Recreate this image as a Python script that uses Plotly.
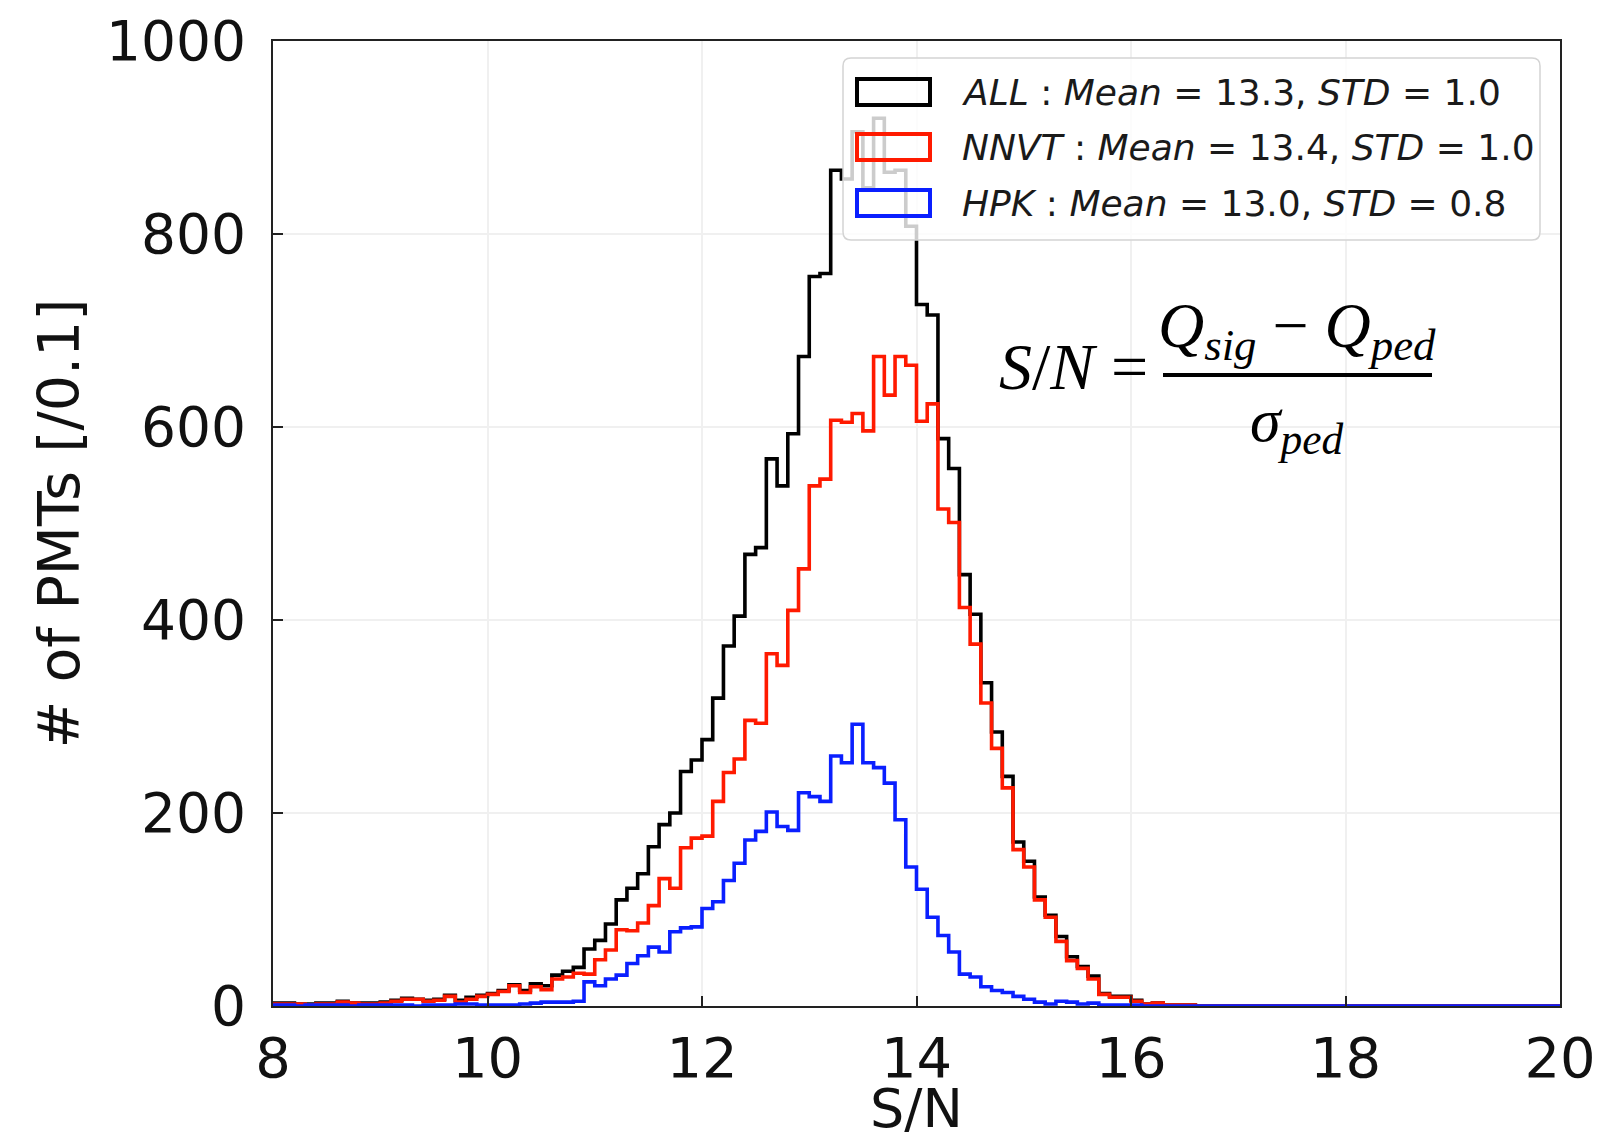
import numpy as np
import plotly.graph_objects as go

# ---------------- data (counts per 0.1 bin, S/N from 8.0 to 20.0) ----------------
bin_start = 8.0
bin_width = 0.1
n_bins = 120

all_counts = [
    3, 3, 2, 2, 3, 3, 5, 3, 3, 3,            # 8.0 - 8.9
    4, 6, 8, 7, 6, 7, 11, 6, 9, 11,          # 9.0 - 9.9
    13, 16, 22, 16, 23, 21, 32, 36, 40, 59,  # 10.0 - 10.9
    68, 85, 110, 122, 137, 165, 188, 200, 243, 255,  # 11.x
    276, 319, 373, 404, 468, 475, 567, 539, 593, 673,  # 12.x
    756, 759, 866, 857, 906, 848, 920, 864, 866, 808,  # 13.x
    727, 716, 588, 557, 447, 406, 335, 284, 238, 170,  # 14.x
    150, 113, 94, 72, 51, 41, 31, 13, 10, 10,          # 15.x
    6, 2, 3, 1, 1, 1, 0, 0, 0, 0,                      # 16.x
    0, 0, 0, 0, 0, 0, 0, 0, 0, 0,                      # 17.x
    0, 0, 0, 0, 0, 0, 0, 0, 0, 0,                      # 18.x
    0, 0, 0, 0, 0, 0, 0, 0, 0, 0,                      # 19.x
]
nnvt_counts = [
    2, 2, 2, 1, 2, 2, 4, 3, 2, 2,
    3, 5, 7, 7, 5, 6, 10, 4, 7, 10,
    12, 15, 21, 14, 20, 17, 28, 30, 34, 33,
    48, 58, 79, 78, 86, 104, 132, 122, 164, 174,
    176, 212, 242, 256, 296, 293, 365, 353, 410, 453,
    539, 546, 607, 605, 614, 596, 673, 633, 673, 664,
    606, 624, 515, 501, 413, 375, 314, 267, 226, 162,
    144, 110, 92, 67, 47, 39, 28, 12, 9, 9,
    5, 2, 3, 1, 1, 1, 0, 0, 0, 0,
    0, 0, 0, 0, 0, 0, 0, 0, 0, 0,
    0, 0, 0, 0, 0, 0, 0, 0, 0, 0,
    0, 0, 0, 0, 0, 0, 0, 0, 0, 0,
]
hpk_counts = [
    1, 1, 0, 1, 1, 1, 1, 0, 1, 1,
    1, 1, 1, 0, 1, 1, 1, 2, 2, 1,
    1, 1, 1, 2, 3, 4, 4, 4, 5, 25,
    21, 28, 32, 44, 52, 61, 56, 77, 81, 82,
    101, 108, 130, 148, 172, 181, 201, 186, 182, 221,
    217, 212, 259, 252, 292, 252, 247, 231, 193, 144,
    121, 92, 73, 56, 33, 30, 20, 16, 14, 10,
    7, 4, 2, 5, 4, 2, 3, 1, 1, 1,
    1, 0, 0, 0, 0, 0, 0, 0, 0, 0,
    0, 0, 0, 0, 0, 0, 0, 0, 0, 0,
    0, 0, 0, 0, 0, 0, 0, 0, 0, 0,
    0, 0, 0, 0, 0, 0, 0, 0, 0, 0,
]

series_names = ["ALL", "NNVT", "HPK"]
series_means = ["13.3", "13.4", "13.0"]
series_stds = ["1.0", "1.0", "0.8"]
series_colors = ["black", "#ff1a00", "#0a1fff"]

x_ticks = [8, 10, 12, 14, 16, 18, 20]
y_ticks = [0, 200, 400, 600, 800, 1000]
x_title = "S/N"
y_title = "# of PMTs [/0.1]"

# ---------------- figure ----------------
W, H = 1599, 1141
ML, MR, MT, MB = 273, 39, 41, 135
PW, PH = W - ML - MR, H - MT - MB

def px(x):
    return (x - ML) / PW

def py(y):
    return (H - MB - y) / PH

edges = np.round(bin_start + bin_width * np.arange(n_bins + 1), 1)

fig = go.Figure()
for name, counts, color in zip(series_names, [all_counts, nnvt_counts, hpk_counts], series_colors):
    yy = list(counts) + [counts[-1]]
    fig.add_trace(go.Scatter(
        x=edges, y=yy, mode="lines", name=name,
        line=dict(color=color, width=3.6, shape="hv"),
        showlegend=False, hoverinfo="x+y",
    ))

shapes = []
annotations = []

# legend box (rounded)
lx0, lx1, ly0, ly1, r = 843, 1540, 58, 240, 8
rx, ry = r / PW, r / PH
X0, X1, Y0, Y1 = px(lx0), px(lx1), py(ly1), py(ly0)
path = (f"M{X0+rx},{Y0} L{X1-rx},{Y0} Q{X1},{Y0} {X1},{Y0+ry} L{X1},{Y1-ry} "
        f"Q{X1},{Y1} {X1-rx},{Y1} L{X0+rx},{Y1} Q{X0},{Y1} {X0},{Y1-ry} "
        f"L{X0},{Y0+ry} Q{X0},{Y0} {X0+rx},{Y0} Z")
shapes.append(dict(type="path", xref="paper", yref="paper", path=path,
                   fillcolor="rgba(255,255,255,0.8)", line=dict(color="#d4d4d4", width=1.5),
                   layer="above"))
row_y = [92, 147, 203]
for i in range(3):
    shapes.append(dict(type="rect", xref="paper", yref="paper",
                       x0=px(857), x1=px(930), y0=py(row_y[i] + 13), y1=py(row_y[i] - 13),
                       line=dict(color=series_colors[i], width=4), fillcolor="rgba(0,0,0,0)",
                       layer="above"))
    txt = (f"<i>{series_names[i]}</i> : <i>Mean</i> = {series_means[i]}, "
           f"<i>STD</i> = {series_stds[i]}")
    annotations.append(dict(xref="paper", yref="paper", x=px(960), y=py(row_y[i]),
                            xanchor="left", yanchor="middle", text=txt, showarrow=False,
                            font=dict(family="DejaVu Sans", size=36, color="#1a1a1a")))

# formula
serif = "Liberation Serif"
annotations.append(dict(xref="paper", yref="paper", x=px(1150), y=py(366),
                        xanchor="right", yanchor="middle", showarrow=False,
                        text="<i>S</i>/<i>N</i> =",
                        font=dict(family=serif, size=66, color="black")))
annotations.append(dict(xref="paper", yref="paper", x=px(1297), y=py(372),
                        xanchor="center", yanchor="bottom", showarrow=False,
                        text="<i>Q</i><sub><i>sig</i></sub> \u2212 <i>Q</i><sub><i>ped</i></sub>",
                        font=dict(family=serif, size=64, color="black")))
annotations.append(dict(xref="paper", yref="paper", x=px(1297), y=py(384),
                        xanchor="center", yanchor="top", showarrow=False,
                        text="<i>\u03c3</i><sub><i>ped</i></sub>",
                        font=dict(family=serif, size=62, color="black")))
shapes.append(dict(type="line", xref="paper", yref="paper",
                   x0=px(1163), x1=px(1432), y0=py(375), y1=py(375),
                   line=dict(color="black", width=4), layer="above"))

# x-axis title (placed explicitly below the tick labels, kept inside the page)
annotations.append(dict(xref="paper", yref="paper", x=0.5, y=py(H),
                        xanchor="center", yanchor="bottom", showarrow=False,
                        text=x_title, borderpad=0,
                        font=dict(family="DejaVu Sans", size=54, color="#111")))

fig.update_layout(
    width=W, height=H,
    margin=dict(l=ML, r=MR, t=MT, b=MB, autoexpand=False),
    paper_bgcolor="white", plot_bgcolor="white",
    shapes=shapes, annotations=annotations,
    showlegend=False,
    font=dict(family="DejaVu Sans", color="#111111"),
)
fig.update_xaxes(
    range=[8, 20], tickvals=x_ticks, ticktext=[str(v) for v in x_ticks],
    ticks="inside", ticklen=10, tickwidth=2, tickcolor="#222",
    showline=True, linecolor="#222", linewidth=2, mirror=True,
    showgrid=True, gridcolor="#f0f0f0", gridwidth=1.5, zeroline=False,
    tickfont=dict(size=56, family="DejaVu Sans", color="#111"),
    ticklabelstandoff=2,
    automargin=False,
)
fig.update_yaxes(
    range=[0, 1000], tickvals=y_ticks, ticktext=[str(v) for v in y_ticks],
    ticks="inside", ticklen=10, tickwidth=2, tickcolor="#222",
    showline=True, linecolor="#222", linewidth=2, mirror=True,
    showgrid=True, gridcolor="#f0f0f0", gridwidth=1.5, zeroline=False,
    tickfont=dict(size=55, family="DejaVu Sans", color="#111"),
    ticklabelstandoff=14,
    title=dict(text=y_title, font=dict(size=57, family="DejaVu Sans", color="#111"), standoff=8),
    automargin=False,
)

fig.write_html("out.html")
